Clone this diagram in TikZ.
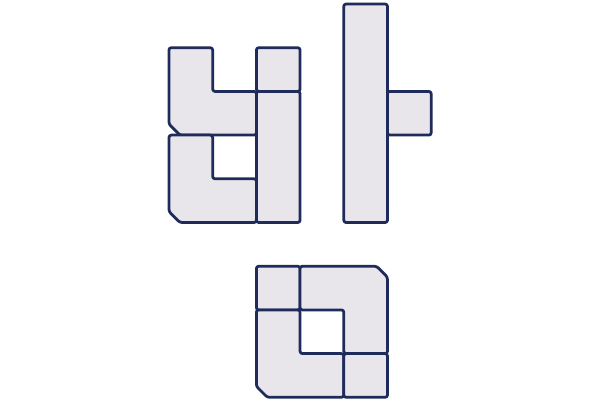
\documentclass[tikz,border=0pt]{standalone}
\usepackage{tikz}
\definecolor{edge}{HTML}{1F2B5B}
\definecolor{tile}{HTML}{E8E6EA}

\begin{document}
\begin{tikzpicture}[x=1cm, y=-1cm]
\tikzstyle{piece}=[draw=edge, fill=tile, line width=1.8pt, line join=round, rounded corners=1.5pt]
\useasboundingbox (-3.867,-0.092) rectangle (9.863,9.062);
% upper syllable, left part
\draw[piece] (0,1) -- (1,1) -- (1,2) -- (2,2) -- (2,3) -- (0.25,3) -- (0,2.75) -- cycle;
\draw[piece] (0,3) -- (1,3) -- (1,4) -- (2,4) -- (2,5) -- (0.25,5) -- (0,4.75) -- cycle;
\draw[piece] (2,1) rectangle (3,2);
\draw[piece] (2,2) rectangle (3,5);
% upper syllable, right part
\draw[piece] (4,0) rectangle (5,5);
\draw[piece] (5,2) rectangle (6,3);
% lower part
\draw[piece] (2,6) rectangle (3,7);
\draw[piece] (3,6) -- (4.75,6) -- (5,6.25) -- (5,8) -- (4,8) -- (4,7) -- (3,7) -- cycle;
\draw[piece] (2,7) -- (3,7) -- (3,8) -- (4,8) -- (4,9) -- (2.25,9) -- (2,8.75) -- cycle;
\draw[piece] (4,8) rectangle (5,9);
\end{tikzpicture}
\end{document}
